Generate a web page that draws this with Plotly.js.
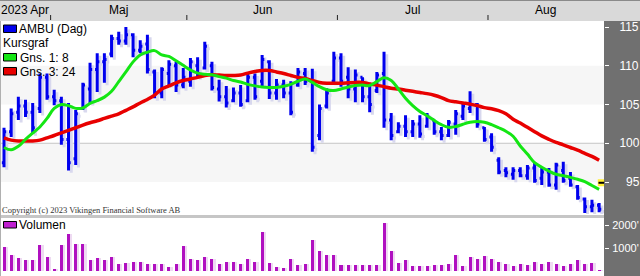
<!DOCTYPE html>
<html><head><meta charset="utf-8">
<script src="https://cdn.plot.ly/plotly-3.0.1.min.js"></script>
<style>html,body{margin:0;padding:0;background:#fff;}#chart{width:640px;height:276px;}</style>
</head><body><div id="chart"></div>
<script>
// ---- data ----
const dates = [
 '2023-04-20','2023-04-21','2023-04-24','2023-04-25','2023-04-26','2023-04-27','2023-04-28',
 '2023-05-01','2023-05-02','2023-05-03','2023-05-04','2023-05-08','2023-05-09','2023-05-10','2023-05-11','2023-05-12',
 '2023-05-15','2023-05-16','2023-05-17','2023-05-22','2023-05-23','2023-05-24','2023-05-25','2023-05-26','2023-05-30','2023-05-31',
 '2023-06-01','2023-06-02','2023-06-06','2023-06-07','2023-06-08','2023-06-09','2023-06-12','2023-06-13','2023-06-14','2023-06-15',
 '2023-06-16','2023-06-19','2023-06-20','2023-06-21','2023-06-22','2023-06-23','2023-06-26','2023-06-27','2023-06-28','2023-06-29','2023-06-30',
 '2023-07-03','2023-07-04','2023-07-05','2023-07-06','2023-07-07','2023-07-10','2023-07-11','2023-07-12','2023-07-13','2023-07-14',
 '2023-07-17','2023-07-18','2023-07-19','2023-07-20','2023-07-21','2023-07-24','2023-07-25','2023-07-26','2023-07-27','2023-07-28','2023-07-31',
 '2023-08-01','2023-08-02','2023-08-03','2023-08-04','2023-08-07','2023-08-08','2023-08-09','2023-08-10','2023-08-11',
 '2023-08-14','2023-08-15','2023-08-16','2023-08-17','2023-08-18','2023-08-21','2023-08-22'
];
const openPrice = [97.5,101.5,104.0,104.8,104.0,104.5,108.5,106.0,105.5,100.5,98.0,104.5,107.0,109.5,110.5,111.5,113.5,113.2,114.0,112.0,112.8,109.2,106.5,109.0,110.0,107.5,
 108.0,110.0,109.7,110.0,107.0,106.0,105.5,106.5,105.5,108.5,108.0,110.5,106.5,107.5,106.5,107.5,109.0,108.0,101.0,104.8,108.0,
 111.0,108.5,107.0,108.5,106.0,106.8,109.0,103.0,101.5,102.2,101.5,102.5,102.2,103.0,101.5,101.0,102.5,103.5,104.5,105.0,102.0,
 100.8,97.8,96.5,96.0,96.5,95.8,96.8,95.5,96.3,94.6,96.5,95.5,94.4,92.8,91.8,92.0];
const highPrice = [102.0,104.5,106.0,105.6,105.2,109.0,109.0,106.9,106.0,105.2,104.3,107.8,110.4,111.6,111.6,114.0,114.4,115.0,114.2,113.3,114.0,109.5,109.8,110.7,110.5,109.7,
 111.0,111.1,113.1,110.5,108.2,107.4,107.2,107.5,109.1,109.0,111.4,110.7,108.3,108.2,108.0,109.7,109.7,109.6,105.0,107.1,111.8,
 111.6,109.8,109.5,108.5,107.8,109.2,111.8,103.9,102.7,103.6,103.0,103.6,103.9,103.0,102.1,103.0,104.3,105.2,106.7,105.2,102.1,
 101.3,98.2,96.9,96.9,96.9,97.2,97.5,96.9,96.8,97.5,97.6,96.3,94.6,93.0,92.7,92.3];
const lowPrice = [96.9,100.8,103.0,103.4,101.3,103.9,105.6,104.9,99.8,96.5,97.2,104.3,105.2,106.6,107.8,111.1,112.7,112.7,111.1,111.6,109.0,105.8,105.8,107.5,106.6,107.1,
 107.3,108.5,109.5,106.8,105.4,104.6,105.3,104.7,105.3,105.6,107.4,105.7,105.6,105.8,103.6,107.3,107.5,98.9,100.4,104.5,107.8,
 107.3,105.8,105.3,105.3,104.0,106.5,102.0,100.4,101.3,100.8,100.8,100.7,102.0,101.1,100.4,100.8,101.1,103.0,103.9,102.0,100.2,
 98.9,96.0,95.6,95.3,95.6,95.3,94.9,94.6,94.4,94.0,94.9,94.4,92.7,91.0,91.1,91.1];
const closePrice = [101.5,103.8,104.8,104.0,102.0,108.5,106.0,105.5,100.5,97.5,103.8,107.5,109.5,110.5,110.8,113.5,113.2,114.0,112.0,112.5,109.5,106.5,109.5,110.2,107.5,108.5,
 110.5,109.0,112.5,107.2,106.0,105.2,106.5,105.0,108.5,106.0,110.8,106.5,107.5,106.5,104.0,109.2,108.0,99.5,104.5,106.5,111.0,
 108.0,107.0,108.8,106.0,105.0,108.8,103.0,101.0,102.2,101.5,102.5,101.2,103.5,101.5,101.0,102.7,103.8,104.8,105.0,102.5,100.5,
 99.5,96.3,96.2,96.5,95.8,96.8,95.2,96.3,94.6,97.2,95.2,94.6,93.0,91.8,92.0,91.5];
const avg8 = [99.45,99.15,99.6,100.5,101.3,102.1,103.2,104.5,105.0,104.85,104.5,104.55,105.15,105.5,105.95,106.7,107.95,109.2,110.5,111.4,111.75,111.95,111.4,111.2,110.65,110.05,
 109.45,109.05,108.9,108.85,108.6,108.4,108.1,107.9,107.6,107.4,107.25,107.2,107.2,107.35,107.6,108.0,108.3,107.85,107.3,106.9,106.8,
 107.0,107.25,107.45,107.5,107.45,107.95,108.45,108.1,107.0,105.8,104.85,104.1,103.55,102.95,102.4,102.05,102.15,102.45,102.7,102.8,102.7,
 102.4,102.0,101.55,100.9,99.65,98.6,97.5,96.9,96.4,96.0,95.8,95.6,95.35,95.05,94.55,94.05];
const avg24 = [100.7,100.4,100.3,100.3,100.3,100.4,100.7,101.0,101.35,101.65,102.0,102.35,102.65,102.9,103.2,103.5,103.8,104.25,104.7,105.2,105.65,106.2,107.0,107.4,107.8,108.1,
 108.3,108.5,108.75,108.85,108.8,108.75,108.75,108.8,109.05,109.25,109.4,109.4,109.2,109.0,108.75,108.5,108.35,108.1,107.85,107.75,107.75,
 107.75,107.8,107.85,107.85,107.65,107.5,107.3,107.1,107.0,106.85,106.7,106.55,106.4,106.2,105.9,105.5,105.35,105.2,105.05,104.85,104.6,
 104.45,104.2,103.8,103.1,102.6,102.05,101.5,100.95,100.5,100.1,99.8,99.45,99.1,98.7,98.3,97.8];
const volumeK = [1040,700,565,480,480,1130,610,90,1130,1610,1170,1170,480,565,480,610,300,350,390,390,300,300,300,175,300,1090,
 520,480,610,520,300,390,390,300,520,390,1700,350,175,130,520,260,300,1350,870,700,700,
 260,260,260,260,260,260,2090,870,350,480,220,220,220,260,260,300,700,220,610,520,650,520,
 390,300,220,300,260,390,300,390,300,220,300,480,300,350,45];
const alertValue = [94.9];
const monthLabels = ['2023 Apr','Maj','Jun','Jul','Aug'];
const priceTicks = [95,100,105,110,115];
const volumeTicks = [1000,2000];
const priceName = 'AMBU (Dag)';
const groupName = 'Kursgraf';
const avg8Name = 'Gns. 1: 8';
const avg24Name = 'Gns. 3: 24';
const volumeName = 'Volumen';
const copyrightText = 'Copyright (c) 2023 Vikingen Financial Software AB';

// ---- layout helpers (pixels -> paper) ----
const H = 276, PW = 604;
const py = p => (H - p) / H;
const pxp = p => p / PW;
const xs = dates.map((d, i) => i);

// month groups from the dates
const months = [];
dates.forEach((d, i) => {
  const k = d.slice(0, 7);
  if (!months.length || months[months.length - 1].key !== k) months.push({key: k, first: i, last: i});
  else months[months.length - 1].last = i;
});

const FONT = 'Liberation Sans, Arial, sans-serif';
const shift = 0.38, dropP = 0.32;

const traces = [
  {type: 'ohlc', x: xs.map(v => v + shift), open: openPrice.map(v => v - dropP), high: highPrice.map(v => v - dropP),
   low: lowPrice.map(v => v - dropP), close: closePrice.map(v => v - dropP),
   increasing: {line: {color: '#d8d8ee', width: 3}}, decreasing: {line: {color: '#d8d8ee', width: 3}},
   tickwidth: 0.3, hoverinfo: 'skip', showlegend: false, xaxis: 'x', yaxis: 'y'},
  {type: 'ohlc', x: xs, open: openPrice, high: highPrice, low: lowPrice, close: closePrice, name: priceName,
   increasing: {line: {color: '#0000ee', width: 3}}, decreasing: {line: {color: '#0000ee', width: 3}},
   tickwidth: 0.3, hoverinfo: 'skip', showlegend: false, xaxis: 'x', yaxis: 'y'},
  {type: 'scatter', mode: 'lines', x: xs, y: avg24, name: avg24Name, line: {color: '#e80000', width: 3.5, shape: 'spline'},
   hoverinfo: 'skip', showlegend: false, xaxis: 'x', yaxis: 'y'},
  {type: 'scatter', mode: 'lines', x: xs, y: avg8, name: avg8Name, line: {color: '#14e614', width: 3, shape: 'spline'},
   hoverinfo: 'skip', showlegend: false, xaxis: 'x', yaxis: 'y'},
  {type: 'scatter', mode: 'markers', x: [xs[xs.length - 1] + 0.3], y: alertValue,
   marker: {symbol: 'square', size: 7, color: '#ffee33', line: {width: 0}}, hoverinfo: 'skip', showlegend: false, xaxis: 'x', yaxis: 'y'},
  {type: 'scatter', mode: 'markers', x: [xs[xs.length - 1] + 0.3], y: alertValue,
   marker: {symbol: 'line-ew', size: 4, line: {color: '#000', width: 2}}, hoverinfo: 'skip', showlegend: false, xaxis: 'x', yaxis: 'y'},
  {type: 'bar', x: xs.map(v => v + 0.3), y: volumeK, width: 0.42, marker: {color: '#eedaf2', line: {width: 0}},
   hoverinfo: 'skip', showlegend: false, xaxis: 'x', yaxis: 'y2'},
  {type: 'bar', x: xs, y: volumeK, width: 0.42, name: volumeName, marker: {color: '#b010c0', line: {width: 0}},
   hoverinfo: 'skip', showlegend: false, xaxis: 'x', yaxis: 'y2'}
];

const shapes = [
  // top date band
  {type: 'rect', xref: 'paper', yref: 'paper', x0: 0, x1: 640 / PW, y0: py(21), y1: 1, fillcolor: '#d9d9d9', line: {width: 0}, layer: 'below'},
  {type: 'line', xref: 'paper', yref: 'paper', x0: 0, x1: 640 / PW, y0: py(0.5), y1: py(0.5), line: {color: '#8a8a8a', width: 1}, layer: 'below'},
  // right value panel
  {type: 'rect', xref: 'paper', yref: 'paper', x0: 1, x1: 640 / PW, y0: 0, y1: py(21), fillcolor: '#707070', line: {width: 0}, layer: 'below'},
  // price bands and the 100 line
  {type: 'rect', xref: 'paper', yref: 'y', x0: 0, x1: 1, y0: 105, y1: 110, fillcolor: '#f6f6f6', line: {width: 0}, layer: 'below'},
  {type: 'rect', xref: 'paper', yref: 'y', x0: 0, x1: 1, y0: 95, y1: 100, fillcolor: '#f6f6f6', line: {width: 0}, layer: 'below'},
  {type: 'line', xref: 'paper', yref: 'y', x0: 0, x1: 1, y0: 100, y1: 100, line: {color: '#c4c4c4', width: 1}, layer: 'below'},
  // separator between panels
  {type: 'rect', xref: 'paper', yref: 'paper', x0: 0, x1: 1, y0: py(218), y1: py(215), fillcolor: '#c6c6c6', line: {width: 0}, layer: 'below'},
  // left border
  {type: 'line', xref: 'paper', yref: 'paper', x0: pxp(0.5), x1: pxp(0.5), y0: 0, y1: py(21), line: {color: '#b0b0b0', width: 1}, layer: 'below'},
  // legend icons
  {type: 'rect', xref: 'paper', yref: 'paper', x0: pxp(3.5), x1: pxp(16.5), y0: py(32.5), y1: py(25), fillcolor: '#0000ee', line: {color: '#000', width: 1}},
  {type: 'rect', xref: 'paper', yref: 'paper', x0: pxp(3.5), x1: pxp(16.5), y0: py(61), y1: py(53.5), fillcolor: '#14e614', line: {color: '#000', width: 1}},
  {type: 'rect', xref: 'paper', yref: 'paper', x0: pxp(3.5), x1: pxp(16.5), y0: py(75), y1: py(67.5), fillcolor: '#e80000', line: {color: '#000', width: 1}},
  {type: 'rect', xref: 'paper', yref: 'paper', x0: pxp(3.5), x1: pxp(16.5), y0: py(228), y1: py(221.5), fillcolor: '#c020d0', line: {color: '#000', width: 1}}
];
// month boundary tick marks
months.slice(1).forEach(m => shapes.push({type: 'line', xref: 'x', yref: 'paper', x0: m.first - 0.5, x1: m.first - 0.5,
  y0: py(20), y1: py(15), line: {color: '#222', width: 1}}));

const annotations = [];
months.forEach((m, i) => {
  const first = i === 0;
  annotations.push({xref: first ? 'paper' : 'x', yref: 'paper', x: first ? 0 : (m.first + m.last) / 2, y: py(9.5),
    xanchor: first ? 'left' : 'center', yanchor: 'middle', text: monthLabels[i], showarrow: false,
    font: {family: FONT, size: 12, color: '#000'}, borderpad: 0});
});
const legendText = (t, x, y) => ({xref: 'paper', yref: 'paper', x: pxp(x), y: py(y), xanchor: 'left', yanchor: 'middle',
  text: t, showarrow: false, font: {family: FONT, size: 12, color: '#000'}, borderpad: 0});
annotations.push(legendText(priceName, 18, 29));
annotations.push(legendText(groupName, 2, 43));
annotations.push(legendText(avg8Name, 19, 57.5));
annotations.push(legendText(avg24Name, 19, 71.5));
annotations.push(legendText(volumeName, 18, 225));
annotations.push({xref: 'paper', yref: 'paper', x: pxp(1), y: py(210), xanchor: 'left', yanchor: 'middle', text: copyrightText,
  showarrow: false, font: {family: 'Liberation Serif, Times New Roman, serif', size: 8.5, color: '#333'}, borderpad: 0});

const layout = {
  width: 640, height: 276,
  margin: {l: 0, r: 36, t: 0, b: 0, pad: 0},
  paper_bgcolor: '#ffffff', plot_bgcolor: '#ffffff',
  showlegend: false, bargap: 0,
  xaxis: {range: [-0.558, 83.68], visible: false, rangeslider: {visible: false}, anchor: 'y2', fixedrange: true},
  yaxis: {domain: [py(214), py(22)], range: [115 - (214 - 27) / 7.75, 115 + 5 / 7.75], side: 'right', anchor: 'x',
    tickmode: 'array', tickvals: priceTicks, ticktext: priceTicks.map(v => String(v).padStart(3, '\u2007')),
    ticks: 'outside', ticklen: 4, tickwidth: 1, tickcolor: '#ffffff', ticklabelstandoff: 8,
    tickfont: {family: FONT, size: 12, color: '#ffffff'}, showgrid: false, zeroline: false, showline: false},
  yaxis2: {domain: [py(271), py(219)], range: [0, 52 / 23 * 1000], side: 'right', anchor: 'x',
    tickmode: 'array', tickvals: volumeTicks, ticktext: volumeTicks.map(v => v + "'"),
    ticks: 'outside', ticklen: 4, tickwidth: 1, tickcolor: '#ffffff', ticklabelstandoff: 1,
    tickfont: {family: FONT, size: 11, color: '#ffffff'}, showgrid: false, zeroline: false, showline: false},
  shapes: shapes, annotations: annotations
};

Plotly.newPlot('chart', traces, layout, {staticPlot: true, displayModeBar: false});
</script>
</body></html>
